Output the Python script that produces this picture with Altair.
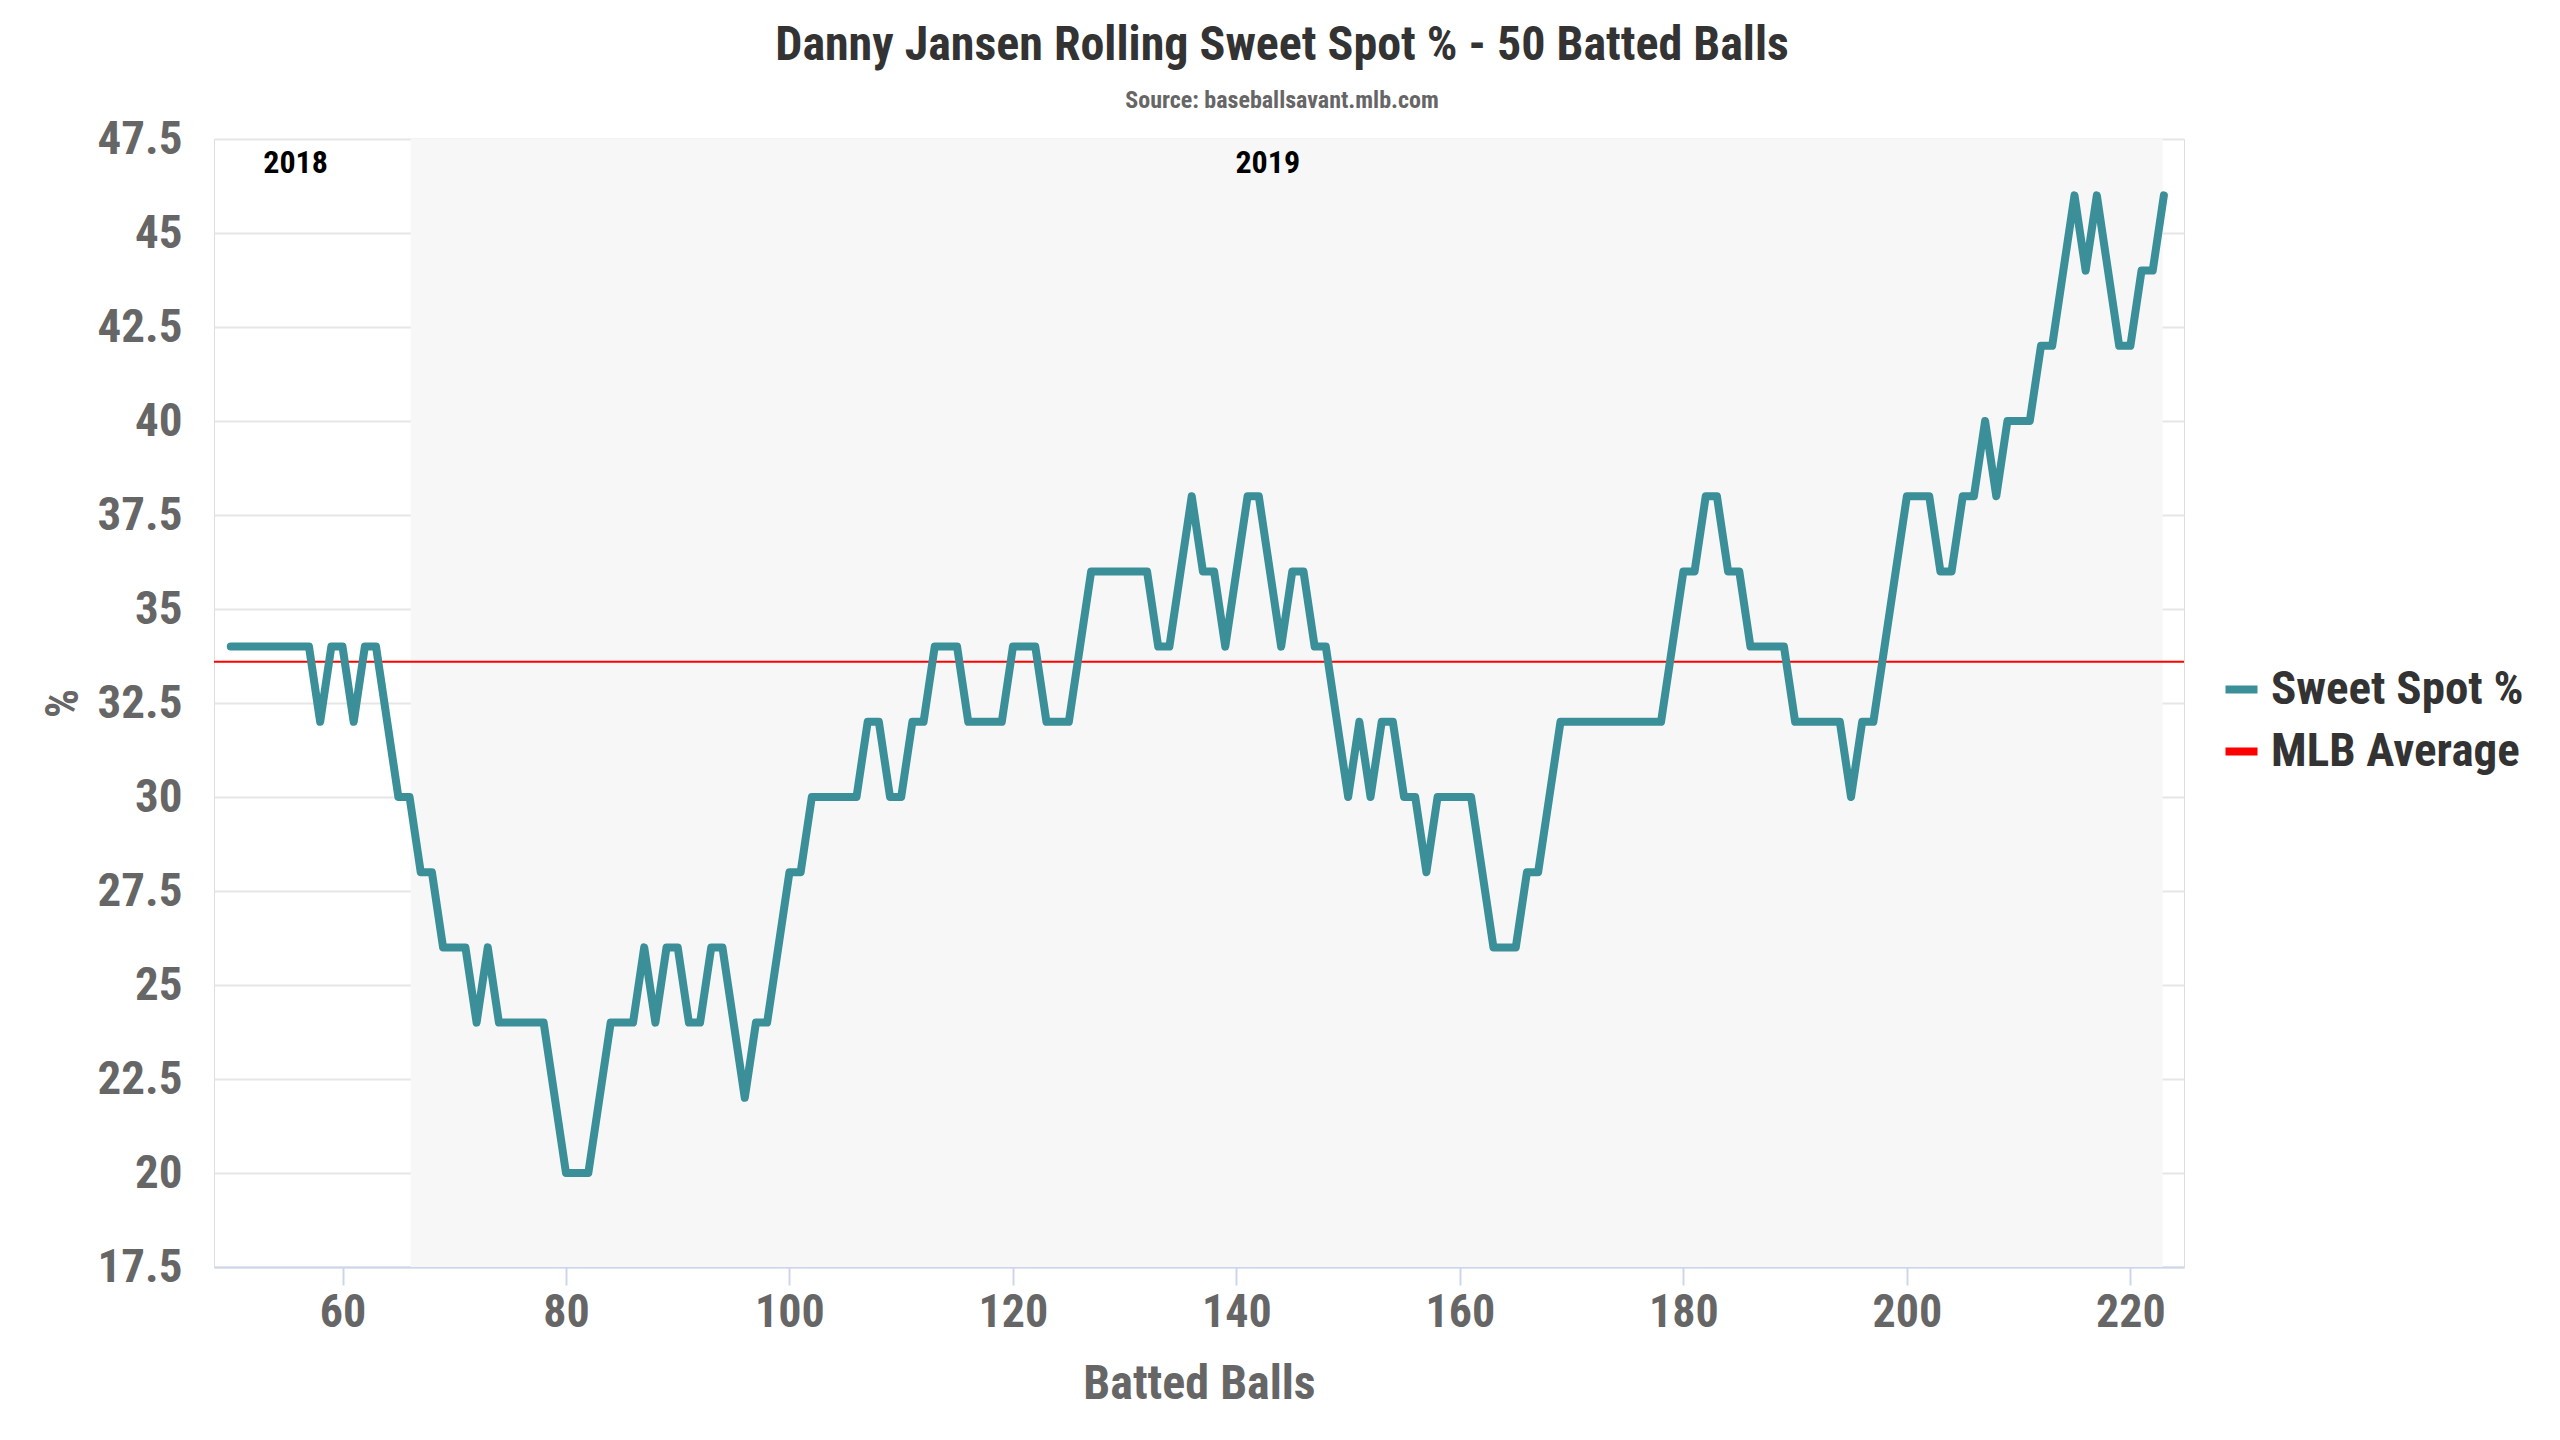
"""Danny Jansen rolling sweet spot % (50 batted balls) recreated with Altair."""

import altair as alt
import pandas as pd

FONT = "'Roboto Condensed', 'Liberation Sans Narrow', 'DejaVu Sans Condensed', Roboto, sans-serif"

# batted ball number (end of each 50-ball window)
batted_balls = list(range(50, 224))

# rolling sweet spot %, one value per batted ball
sweet_spot_pct = [
    34, 34, 34, 34, 34, 34, 34, 34, 32, 34,  # 50-59
    34, 32, 34, 34, 32, 30, 30, 28, 28, 26,  # 60-69
    26, 26, 24, 26, 24, 24, 24, 24, 24, 22,  # 70-79
    20, 20, 20, 22, 24, 24, 24, 26, 24, 26,  # 80-89
    26, 24, 24, 26, 26, 24, 22, 24, 24, 26,  # 90-99
    28, 28, 30, 30, 30, 30, 30, 32, 32, 30,  # 100-109
    30, 32, 32, 34, 34, 34, 32, 32, 32, 32,  # 110-119
    34, 34, 34, 32, 32, 32, 34, 36, 36, 36,  # 120-129
    36, 36, 36, 34, 34, 36, 38, 36, 36, 34,  # 130-139
    36, 38, 38, 36, 34, 36, 36, 34, 34, 32,  # 140-149
    30, 32, 30, 32, 32, 30, 30, 28, 30, 30,  # 150-159
    30, 30, 28, 26, 26, 26, 28, 28, 30, 32,  # 160-169
    32, 32, 32, 32, 32, 32, 32, 32, 32, 34,  # 170-179
    36, 36, 38, 38, 36, 36, 34, 34, 34, 34,  # 180-189
    32, 32, 32, 32, 32, 30, 32, 32, 34, 36,  # 190-199
    38, 38, 38, 36, 36, 38, 38, 40, 38, 40,  # 200-209
    40, 40, 42, 42, 44, 46, 44, 46, 44, 42,  # 210-219
    42, 44, 44, 46,                          # 220-223
]

mlb_average = [33.6]

series_names = ["Sweet Spot %", "MLB Average"]
series_colors = ["#3a8f98", "#ff0000"]

# 2019 season shading and season labels
band_start = [66.1]
band_end = [222.9]
season_labels = ["2018", "2019"]
season_label_x = [55.8, 142.8]
season_label_y = [47.5, 47.5]

x_domain = [48.5, 224.8]
x_ticks = [60, 80, 100, 120, 140, 160, 180, 200, 220]
y_domain = [17.5, 47.5]
y_ticks = [17.5, 20, 22.5, 25, 27.5, 30, 32.5, 35, 37.5, 40, 42.5, 45, 47.5]


def build_chart():
    line_df = pd.DataFrame(
        {"batted_balls": batted_balls, "pct": sweet_spot_pct, "series": series_names[0]}
    )
    avg_df = pd.DataFrame({"pct": mlb_average, "series": [series_names[1]]})
    band_df = pd.DataFrame({"start": band_start, "end": band_end})
    label_df = pd.DataFrame(
        {"label": season_labels, "x": season_label_x, "y": season_label_y}
    )

    x_scale = alt.Scale(domain=x_domain, nice=False, zero=False)
    y_scale = alt.Scale(domain=y_domain, nice=False, zero=False)
    color_scale = alt.Scale(domain=series_names, range=series_colors)

    x_axis = alt.Axis(
        values=x_ticks,
        title="Batted Balls",
        grid=False,
        domainColor="#ccd6eb",
        domainWidth=2,
        tickColor="#ccd6eb",
        tickWidth=2,
        tickSize=18,
        labelPadding=5,
        labelFontSize=46,
        labelFont=FONT,
        labelFontWeight="bold",
        labelColor="#666666",
        titleFontSize=48,
        titleFont=FONT,
        titleFontWeight="bold",
        titleColor="#666666",
        titlePadding=25,
    )
    y_axis = alt.Axis(
        values=y_ticks,
        format=".3~g",
        title="%",
        domain=False,
        ticks=False,
        gridColor="#e6e6e6",
        gridWidth=2,
        labelPadding=32,
        labelFontSize=47,
        labelFont=FONT,
        labelFontWeight="bold",
        labelColor="#666666",
        titleFontSize=46,
        titleFont=FONT,
        titleFontWeight="bold",
        titleColor="#666666",
        titlePadding=10,
    )

    band = (
        alt.Chart(band_df)
        .mark_rect(color="#f7f7f7")
        .encode(
            x=alt.X("start:Q", scale=x_scale, axis=x_axis),
            x2="end:Q",
        )
    )

    line = (
        alt.Chart(line_df)
        .mark_line(strokeWidth=8, strokeJoin="round", strokeCap="round")
        .encode(
            x=alt.X("batted_balls:Q", scale=x_scale, axis=x_axis),
            y=alt.Y("pct:Q", scale=y_scale, axis=y_axis),
            color=alt.Color(
                "series:N",
                scale=color_scale,
                legend=alt.Legend(
                    title=None,
                    orient="none",
                    legendX=2004,
                    legendY=527,
                    symbolType="stroke",
                    symbolSize=1024,
                    symbolStrokeWidth=8,
                    labelFontSize=47,
                    labelFont=FONT,
                    labelFontWeight="bold",
                    labelColor="#333333",
                    labelOffset=6,
                    labelLimit=0,
                    rowPadding=14,
                    padding=0,
                ),
            ),
        )
    )

    average = (
        alt.Chart(avg_df)
        .mark_rule(strokeWidth=2)
        .encode(
            y=alt.Y("pct:Q", scale=y_scale, axis=y_axis),
            color=alt.Color("series:N", scale=color_scale),
        )
    )

    labels = (
        alt.Chart(label_df)
        .mark_text(
            font=FONT,
            fontSize=32,
            fontWeight="bold",
            color="#000000",
            baseline="top",
            dy=9,
        )
        .encode(
            x=alt.X("x:Q", scale=x_scale, axis=x_axis),
            y=alt.Y("y:Q", scale=y_scale, axis=y_axis),
            text="label:N",
        )
    )

    chart = (
        alt.layer(band, average, line, labels)
        .properties(
            width=1970,
            height=1128,
            autosize=alt.AutoSizeParams(type="none"),
            padding={"left": 206, "top": 131, "right": 340, "bottom": 160},
            title=alt.TitleParams(
                text="Danny Jansen Rolling Sweet Spot % - 50 Batted Balls",
                subtitle="Source: baseballsavant.mlb.com",
                font=FONT,
                fontSize=48,
                fontWeight="bold",
                color="#333333",
                subtitleFont=FONT,
                subtitleFontSize=24,
                subtitleFontWeight="bold",
                subtitleColor="#666666",
                subtitlePadding=19,
                anchor="middle",
                frame="bounds",
                offset=2,
            ),
        )
        .configure_view(stroke=None)
        .configure(background="#ffffff")
    )
    return chart


def main():
    assert len(batted_balls) == len(sweet_spot_pct)
    chart = build_chart()
    chart.save("out.html", embed_options={"renderer": "svg", "actions": False})


if __name__ == "__main__":
    main()
